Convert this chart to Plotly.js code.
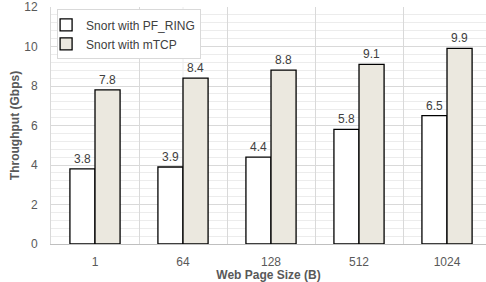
<!DOCTYPE html>
<html><head><meta charset="utf-8">
<script src="https://cdn.plot.ly/plotly-3.0.1.min.js"></script>
<style>html,body{margin:0;padding:0;background:#fff}#chart{width:486px;height:282px}</style>
</head><body><div id="chart"></div>
<script>
const categories = ['1', '64', '128', '512', '1024'];
const pfRing = [3.8, 3.9, 4.4, 5.8, 6.5];
const mtcp = [7.8, 8.4, 8.8, 9.1, 9.9];
const seriesNames = ['Snort with PF_RING', 'Snort with mTCP'];

const FONT = 'Liberation Sans, Arial, sans-serif';
const txt = {family: FONT, size: 12, color: '#404040'};

const traces = [
  {type: 'bar', name: seriesNames[0], x: categories, y: pfRing,
   marker: {color: '#ffffff', line: {color: '#000000', width: 1.3}},
   texttemplate: '%{y:.1f}', textposition: 'outside', textfont: txt, cliponaxis: false},
  {type: 'bar', name: seriesNames[1], x: categories, y: mtcp,
   marker: {color: '#ebe8df', line: {color: '#000000', width: 1.3}},
   texttemplate: '%{y:.1f}', textposition: 'outside', textfont: txt, cliponaxis: false}
];

const centerLines = categories.map(c => ({
  type: 'line', xref: 'x', yref: 'paper', x0: c, x1: c, y0: 0, y1: 1,
  line: {color: '#ececec', width: 1}, layer: 'below'
}));

const layout = {
  width: 486, height: 282,
  margin: {l: 51, r: 0, t: 7, b: 38},
  paper_bgcolor: '#ffffff', plot_bgcolor: '#ffffff',
  barmode: 'group', bargap: 0.43, bargroupgap: 0,
  font: {family: FONT, size: 12, color: '#595959'},
  showlegend: true,
  legend: {x: 0.014, y: 0.99, xanchor: 'left', yanchor: 'top',
           bgcolor: '#ffffff', bordercolor: '#d9d9d9', borderwidth: 1,
           font: txt, tracegroupgap: 0, itemwidth: 30, indentation: -12},
  xaxis: {type: 'category', range: [-0.5, 4.443], tickson: 'boundaries',
          showgrid: true, gridcolor: '#d9d9d9', gridwidth: 1,
          showline: true, linecolor: '#bfbfbf', linewidth: 1,
          ticks: '', ticklabelstandoff: 7,
          tickfont: {family: FONT, size: 12, color: '#595959'},
          title: {text: '<b>Web Page Size (B)</b>', standoff: 2,
                  font: {family: FONT, size: 12, color: '#595959'}},
          automargin: false, fixedrange: true},
  yaxis: {range: [0, 12], dtick: 2, tick0: 0,
          showgrid: true, gridcolor: '#d9d9d9', gridwidth: 1,
          minor: {dtick: 0.4, showgrid: true, gridcolor: '#ececec', gridwidth: 1},
          zeroline: false, showline: true, linecolor: '#d9d9d9',
          ticks: '', ticklabelstandoff: 10,
          tickfont: {family: FONT, size: 12, color: '#595959'},
          title: {text: '<b>Throughput (Gbps)</b>', standoff: 2,
                  font: {family: FONT, size: 12, color: '#595959'}},
          automargin: false, fixedrange: true},
  shapes: centerLines
};

Plotly.newPlot('chart', traces, layout, {displayModeBar: false, staticPlot: true});
</script></body></html>
